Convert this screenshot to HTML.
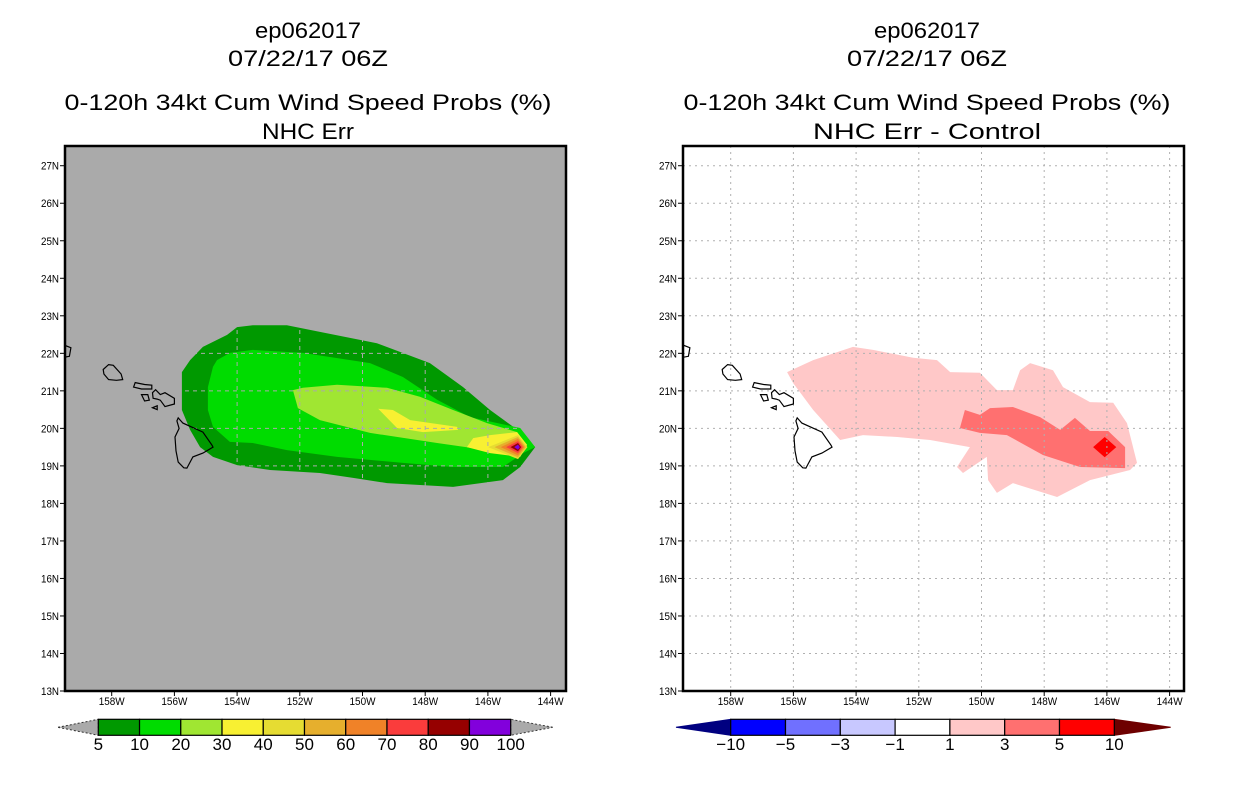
<!DOCTYPE html>
<html><head><meta charset="utf-8"><style>
html,body{margin:0;padding:0;background:#fff;}
svg{display:block;font-family:"Liberation Sans",sans-serif;}
</style></head><body>
<svg id="chart" width="1236" height="800" viewBox="0 0 1236 800" xmlns="http://www.w3.org/2000/svg">
<defs>
<clipPath id="clipL"><rect x="65" y="146" width="501" height="545"/></clipPath>
<clipPath id="clipR"><rect x="683" y="146" width="501" height="545"/></clipPath>
</defs>
<g id="root"></g>
</svg>
<script>
// ---- data ----
const lonTicks = [158,156,154,152,150,148,146,144];
const latTicks = [13,14,15,16,17,18,19,20,21,22,23,24,25,26,27];
const leftLevels = [5,10,20,30,40,50,60,70,80,90,100];
const leftColors = ["#009900","#00dc00","#a0e632","#f8f032","#e6dc32","#e6af2d","#f08228","#fa3c3c","#960000","#8200dc"];
const rightLevels = [-10,-5,-3,-1,1,3,5,10];
const rightColors = ["#0000ff","#7070ff","#c8c8ff","#ffffff","#ffc8c8","#ff7070","#ff0000"];
// left panel contours (lon W, lat N)
const prob5 = [[155.76,21.50],[155.76,20.49],[155.50,19.96],[155.18,19.50],[154.77,19.24],[154.00,19.02],[152.95,18.89],[151.36,18.81],[150.30,18.68],[149.22,18.54],[147.11,18.44],[145.52,18.62],[144.97,18.97],[144.49,19.50],[145.19,20.04],[145.93,20.49],[146.79,21.10],[147.85,21.74],[149.54,22.27],[151.36,22.57],[152.41,22.75],[153.50,22.75],[154.00,22.70],[154.32,22.49],[155.09,22.17],[155.50,21.82]];
const prob10 = [[154.77,21.64],[154.93,21.10],[154.93,20.49],[154.77,20.04],[154.23,19.64],[153.50,19.61],[152.41,19.42],[150.81,19.24],[148.71,19.08],[147.11,18.97],[145.52,18.97],[144.88,19.34],[144.49,19.50],[144.97,20.01],[146.57,20.30],[147.62,20.76],[148.71,21.37],[149.76,21.74],[151.90,22.01],[153.50,22.09],[154.23,22.01],[154.64,21.82]];
const prob20 = [[152.22,21.02],[152.06,20.54],[151.36,20.22],[149.76,19.88],[147.62,19.61],[146.03,19.42],[145.07,19.42],[144.88,19.61],[145.07,19.90],[146.03,20.14],[147.11,20.49],[148.17,20.84],[149.22,21.08],[150.81,21.16],[151.90,21.08]];
const prob30a = [[149.50,20.52],[149.03,20.49],[148.48,20.22],[146.98,20.04],[146.95,19.96],[148.07,19.90],[148.90,20.01]];
const prob30b = [[146.67,19.50],[146.47,19.74],[145.93,19.82],[145.07,19.90],[144.75,19.56],[144.97,19.24],[145.93,19.34]];
const peakCenter = [145.04,19.50];
const peakWest = [0.95,0.75,0.55,0.38,0.24,0.12];
const peakEast = [0.30,0.25,0.20,0.15,0.10,0.06];
const peakHalfLat = [0.32,0.27,0.22,0.16,0.11,0.07];
// right panel difference contours
const diff1 = [[156.20,21.50],[155.37,21.82],[154.10,22.17],[153.46,22.09],[152.18,21.88],[151.42,21.82],[151.00,21.50],[150.05,21.48],[149.51,21.02],[149.00,21.02],[148.77,21.55],[148.45,21.74],[147.72,21.55],[147.40,21.10],[146.54,20.70],[145.80,20.68],[145.36,20.14],[145.04,19.08],[145.26,18.89],[146.54,18.62],[147.59,18.17],[149.00,18.54],[149.51,18.28],[149.79,18.62],[149.83,19.24],[150.59,18.81],[150.78,18.97],[150.37,19.50],[151.64,19.69],[152.69,19.77],[153.78,19.82],[154.51,19.69],[155.37,20.49],[156.01,21.21]];
const diff3 = [[150.69,20.01],[150.53,20.49],[150.05,20.36],[149.73,20.54],[149.00,20.57],[148.13,20.30],[147.49,19.96],[147.02,20.28],[146.54,19.93],[145.96,19.93],[145.42,19.50],[145.42,18.94],[146.86,18.97],[148.04,19.29],[149.19,19.82],[150.05,19.88]];
const diff5Center = [146.07,19.50];
const diff5Half = [0.37,0.27];
// coastlines
const bigIsland = [[155.88,20.28],[155.73,20.14],[155.09,19.90],[154.80,19.55],[154.77,19.50],[155.09,19.34],[155.41,19.24],[155.60,18.94],[155.70,18.95],[155.88,19.10],[155.95,19.40],[155.98,19.77],[155.85,20.00],[155.92,20.20]];
const oahu = [[158.27,21.57],[158.10,21.70],[157.95,21.68],[157.70,21.45],[157.65,21.30],[157.85,21.28],[158.10,21.30],[158.25,21.45]];
const molokai = [[157.30,21.10],[157.25,21.22],[156.95,21.17],[156.72,21.15],[156.72,21.05],[157.05,21.05]];
const lanai = [[157.05,20.90],[156.85,20.90],[156.80,20.75],[156.95,20.73]];
const maui = [[156.70,20.95],[156.60,21.03],[156.45,20.90],[156.30,20.95],[156.00,20.80],[156.00,20.65],[156.30,20.58],[156.45,20.75],[156.55,20.78],[156.68,20.80]];
const kahoolawe = [[156.70,20.55],[156.55,20.60],[156.55,20.50]];
const kauai = [[159.75,22.10],[159.55,22.23],[159.30,22.15],[159.35,21.92],[159.60,21.88],[159.78,21.95]];
const islands = [bigIsland, oahu, molokai, lanai, maui, kahoolawe, kauai];

// ---- helpers ----
const NS = "http://www.w3.org/2000/svg";
const root = document.getElementById('root');
function el(tag, attrs, parent){ const e=document.createElementNS(NS,tag); for(const k in attrs) e.setAttribute(k,attrs[k]); (parent||root).appendChild(e); return e; }
const PX_PER_LON = 31.35, PX_PER_LAT = 37.52;
function yS(lat){ return 691 - (lat-13)*PX_PER_LAT; }
function makeX(t158){ return lon => t158 + (158-lon)*PX_PER_LON; }
function pts(poly, xS){ return poly.map(p=>xS(p[0]).toFixed(1)+","+yS(p[1]).toFixed(1)).join(" "); }

function panel(side){
  const L = side==='left';
  const x0 = L?65:683, x1 = L?566:1184, t158 = L?111.7:730.7, cx = L?308:927;
  const xS = makeX(t158);
  const g = el('g',{'clip-path':L?'url(#clipL)':'url(#clipR)'});
  
  
  el('rect',{x:x0,y:146,width:x1-x0,height:545,fill:L?'#aaaaaa':'#ffffff'},g);
  if(L){
    const polys=[[prob5,0],[prob10,1],[prob20,2],[prob30a,3],[prob30b,3]];
    polys.forEach(([p,i])=>{
      const e=el('polygon',{points:pts(p,xS),fill:leftColors[i]},g);
      
      
    });
    for(let i=0;i<peakWest.length;i++){
      const c=peakCenter, p=[[c[0]+peakWest[i],c[1]],[c[0],c[1]+peakHalfLat[i]],[c[0]-peakEast[i],c[1]],[c[0],c[1]-peakHalfLat[i]]];
      const e=el('polygon',{points:pts(p,xS),fill:leftColors[i+4]},g);
      
      
    }
  } else {
    let e=el('polygon',{points:pts(diff1,xS),fill:rightColors[4]},g);
    
    
    e=el('polygon',{points:pts(diff3,xS),fill:rightColors[5]},g);
    
    
    const c=diff5Center,h=diff5Half;
    e=el('polygon',{points:pts([[c[0]+h[0],c[1]],[c[0],c[1]+h[1]],[c[0]-h[0],c[1]],[c[0],c[1]-h[1]]],xS),fill:rightColors[6]},g);
    
    
  }
  // grid
  const gc = L?'#aaaaaa':'#b0b0b0';
  const da = L?'4,4':'2,4';
  lonTicks.forEach(lon=>{ const x=xS(lon); el('line',{x1:x,y1:146,x2:x,y2:691,stroke:gc,'stroke-width':1,'stroke-dasharray':da},g); });
  latTicks.forEach(lat=>{ const y=yS(lat); el('line',{x1:x0,y1:y,x2:x1,y2:y,stroke:gc,'stroke-width':1,'stroke-dasharray':da},g); });
  // islands
  islands.forEach((p,i)=>{
    const e=el('polygon',{points:pts(p,xS),fill:'none',stroke:'#000','stroke-width':1.2},g);
    
    
  });
  // frame
  const fr=el('rect',{x:x0,y:146,width:x1-x0,height:545,fill:'none',stroke:'#000','stroke-width':2.5});
  
  
  // ticks and labels
  lonTicks.forEach(lon=>{
    const x=xS(lon);
    el('line',{x1:x,y1:691,x2:x,y2:696,stroke:'#000','stroke-width':1});
    const t=el('text',{x:x,y:705,'font-size':11,'text-anchor':'middle',textLength:26,lengthAdjust:'spacingAndGlyphs'});
    t.textContent=lon+'W';
    
    
  });
  latTicks.forEach(lat=>{
    const y=yS(lat);
    el('line',{x1:x0-5,y1:y,x2:x0,y2:y,stroke:'#000','stroke-width':1});
    const t=el('text',{x:x0-24,y:y+4,'font-size':11,textLength:18,lengthAdjust:'spacingAndGlyphs'});
    t.textContent=lat+'N';
    
    
  });
  // titles
  const titles=[['ep062017',38],['07/22/17 06Z',66],['0-120h 34kt Cum Wind Speed Probs (%)',110],[L?'NHC Err':'NHC Err - Control',139]];
  titles.forEach(([s,y],i)=>{
    const t=el('text',{x:cx,y:y,'font-size':22,'text-anchor':'middle',textLength:(s.length*13.6-3).toFixed(0),lengthAdjust:'spacingAndGlyphs'});
    t.textContent=s;
    
    
  });
}
panel('left'); panel('right');

// ---- colorbars ----
function colorbar(side){
  const L = side==='left';
  const levels = L?leftLevels:rightLevels, colors = L?leftColors:rightColors;
  const xa = L?98.3:730.7, xb = L?510.7:1114.3, tipL = L?58:676, tipR = L?552.7:1170.7;
  const y0=719.3, y1=735.3, ym=(y0+y1)/2;
  const n = levels.length-1, w=(xb-xa)/n;
  const g=el('g',{});
  
  
  el('polygon',{points:`${tipL},${ym} ${xa},${y0} ${xa},${y1}`,fill:L?'#aaaaaa':'#000080',stroke:L?'#333':'#000080','stroke-width':1,'stroke-dasharray':L?'2,2':'none'},g);
  el('polygon',{points:`${tipR},${ym} ${xb},${y0} ${xb},${y1}`,fill:L?'#aaaaaa':'#6e0000',stroke:L?'#333':'#6e0000','stroke-width':1,'stroke-dasharray':L?'2,2':'none'},g);
  for(let i=0;i<n;i++){
    const r=el('rect',{x:xa+i*w,y:y0,width:w,height:y1-y0,fill:colors[i],stroke:'#000','stroke-width':1.2},g);
    
    
  }
  levels.forEach((v,i)=>{
    const s = v<0 ? '\u2212'+Math.abs(v) : String(v);
    const t=el('text',{x:xa+i*w,y:750,'font-size':17,'text-anchor':'middle'},g);
    t.textContent=s;
    
    
  });
}
colorbar('left'); colorbar('right');
</script>
</body></html>
